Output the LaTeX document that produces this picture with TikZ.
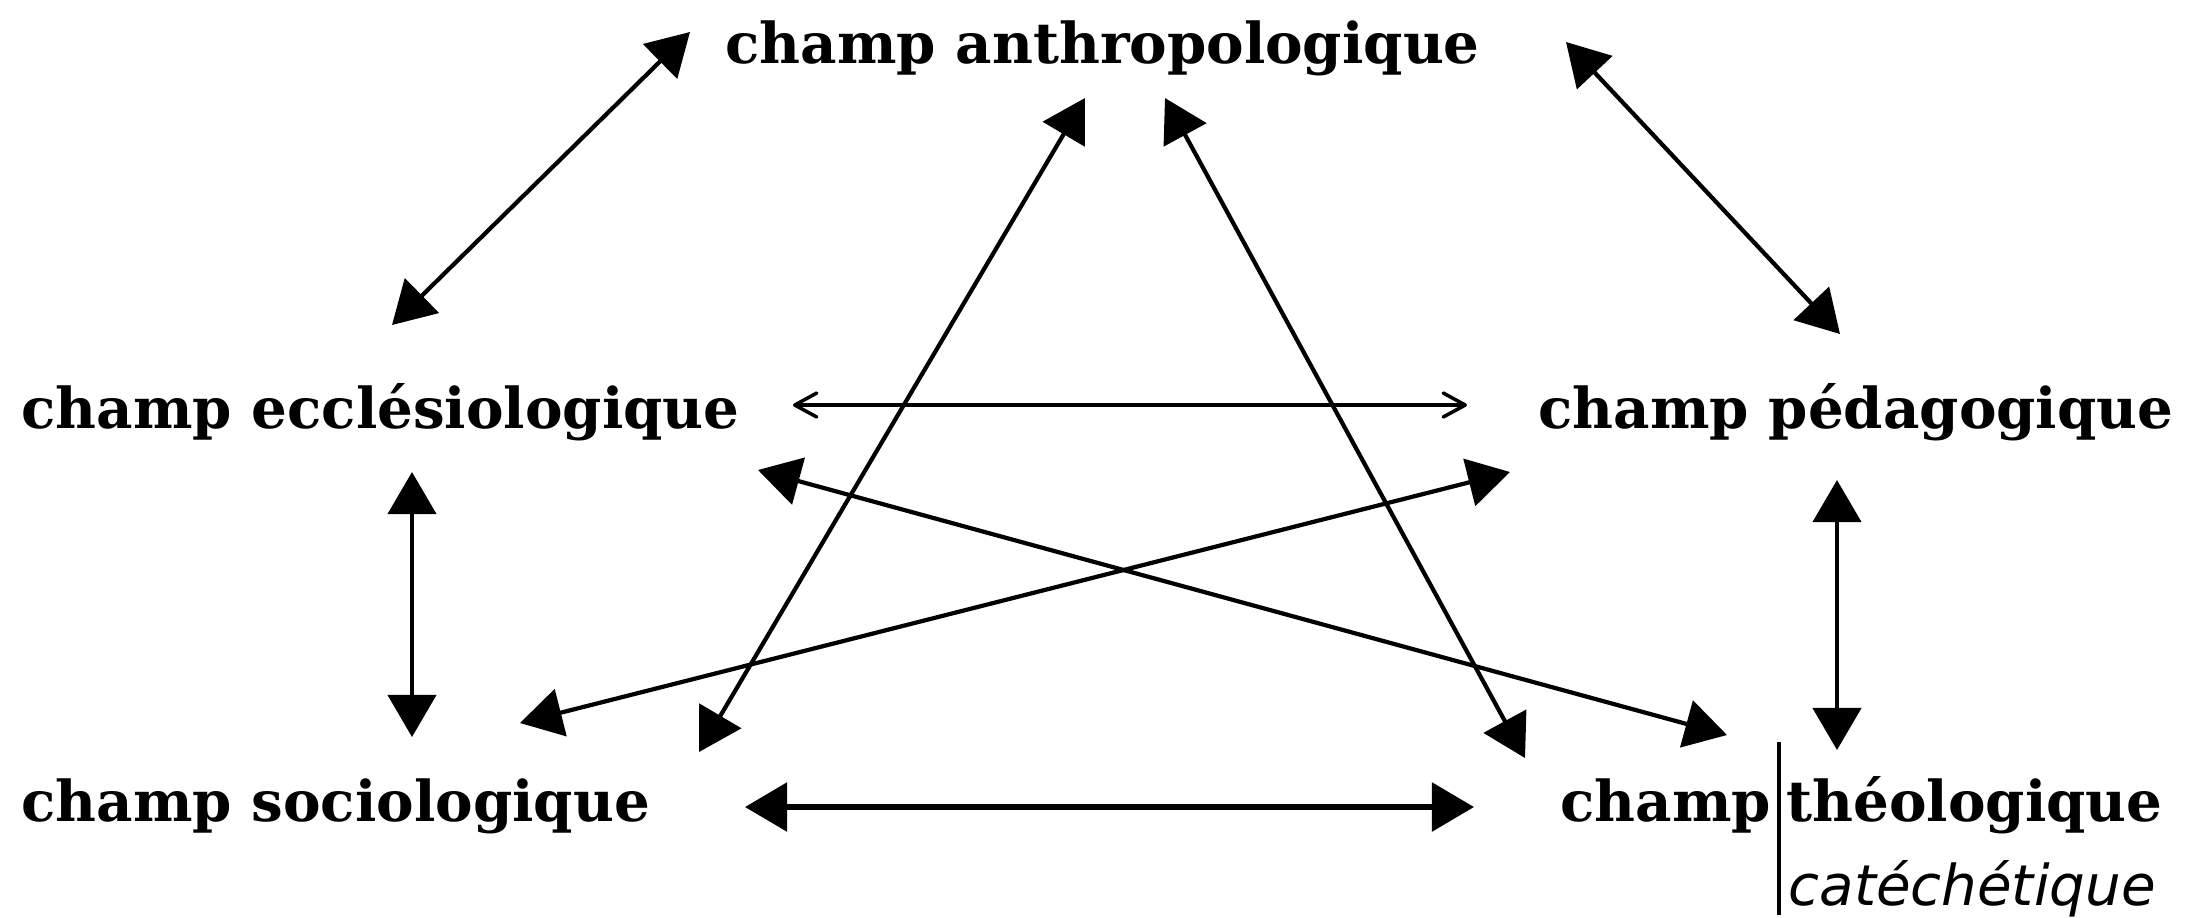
\documentclass[tikz,border=0pt]{standalone}
\usepackage{fontspec}
\setmainfont{DejaVu Serif}
\newfontfamily\handfont{DejaVu Sans}
\usepackage{tikz}
\usetikzlibrary{arrows.meta, positioning}

\begin{document}
\begin{tikzpicture}[
    x=0.01cm, y=-0.01cm,
    field/.style={
        inner sep=0pt, anchor=base west,
        font=\fontsize{16}{19}\selectfont\bfseries
    },
    hand/.style={
        inner sep=0pt, anchor=base west,
        font=\handfont\itshape\fontsize{16}{19}\selectfont
    },
    link/.style={
        {Triangle[length=4.2mm, width=4.8mm]}-{Triangle[length=4.2mm, width=4.8mm]},
        line width=1.2pt
    },
    heavylink/.style={link, line width=1.6pt},
    thinlink/.style={
        {Straight Barb[length=2.2mm, width=2.4mm, round]}-{Straight Barb[length=2.2mm, width=2.4mm, round]},
        line width=1pt
    }
]
\useasboundingbox (0,0) rectangle (2202,917);

% 1. The five fields
\node[field] (anthro) at (725, 63) {champ anthropologique};
\node[field] (eccl) at (21, 428) {champ ecclésiologique};
\node[field] (peda) at (1538, 428) {champ pédagogique};
\node[field] (socio) at (21, 821) {champ sociologique};
\node[field] (theo) at (1560, 821) {champ};
\node[field] (theol) at ([xshift=0.14cm]theo.base east) {théologique};

% handwritten addition, split off by a bar
\node[hand] (cate) at ([shift={(2,84)}]theol.base west) {catéchétique};
\draw[line width=1.2pt] ([shift={(-7,-79)}]theol.base west) -- ([shift={(-7,94)}]theol.base west);

% 2. Outer links
\draw[link] ([shift={(-35,-31)}]anthro.base west) -- ([shift={(371,-103)}]eccl.base west);
\draw[link] ([shift={(841,-21)}]anthro.base west) -- ([shift={(302,-94)}]peda.base west);
\draw[link] ([shift={(391,44)}]eccl.base west) -- ([shift={(391,-84)}]socio.base west);
\draw[link] ([shift={(299,52)}]peda.base west) -- ([shift={(277,-71)}]theo.base west);
\draw[thinlink] ([shift={(772,-23)}]eccl.base west) -- ([shift={(-71,-23)}]peda.base west);
\draw[heavylink] ([shift={(724,-14)}]socio.base west) -- ([shift={(-86,-14)}]theo.base west);

% 3. Crossing links
\draw[link] ([shift={(360,35)}]anthro.base west) -- ([shift={(678,-69)}]socio.base west);
\draw[link] ([shift={(440,35)}]anthro.base west) -- ([shift={(-35,-63)}]theo.base west);
\draw[link] ([shift={(737,42)}]eccl.base west) -- ([shift={(167,-86)}]theo.base west);
\draw[link] ([shift={(-28,44)}]peda.base west) -- ([shift={(499,-98)}]socio.base west);

\end{tikzpicture}
\end{document}
